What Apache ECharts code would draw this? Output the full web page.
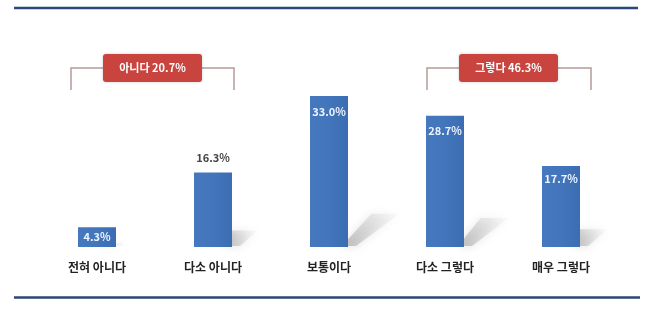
<!DOCTYPE html>
<html><head><meta charset="utf-8">
<script src="https://cdn.jsdelivr.net/npm/echarts@6/dist/echarts.min.js"></script>
<style>html,body{margin:0;padding:0;background:#fff}#c{width:653px;height:311px}</style>
</head><body><div id="c"></div>
<script>
const categories = ['전혀 아니다', '다소 아니다', '보통이다', '다소 그렇다', '매우 그렇다'];
const values = [4.3, 16.3, 33.0, 28.7, 17.7];
const groupLabels = ['아니다 20.7%', '그렇다 46.3%'];

const chart = echarts.init(document.getElementById('c'), null, {renderer: 'canvas'});
const font = '"Noto Sans CJK KR", "Noto Sans", sans-serif';
const insideCol = '#eef4ff';
const labelCfg = [
  {position: 'inside', color: insideCol},
  {position: 'top', color: '#444', distance: 9},
  {position: 'insideTop', color: insideCol, distance: 10},
  {position: 'insideTop', color: insideCol, distance: 10},
  {position: 'insideTop', color: insideCol, distance: 7}
];
const barData = values.map((v, i) => ({
  value: v,
  label: Object.assign({show: true, formatter: v.toFixed(1) + '%', fontSize: 11, fontWeight: 'bold', fontFamily: font}, labelCfg[i])
}));

function bracket(x1, x2, boxX, text) {
  return [
    {type: 'polyline', shape: {points: [[x1, 90], [x1, 68], [x2, 68], [x2, 90]]}, style: {stroke: '#b79a9a', lineWidth: 1.5, fill: null}, z: 1},
    {type: 'rect', shape: {x: boxX, y: 54, width: 99, height: 28, r: 3}, style: {fill: '#c9433f', shadowBlur: 3, shadowColor: 'rgba(0,0,0,0.2)'}, z: 2},
    {type: 'text', style: {x: boxX + 49.5, y: 68, text: text, fill: '#fff', font: 'bold 11px ' + font, textAlign: 'center', textVerticalAlign: 'middle'}, z: 3}
  ];
}

chart.setOption({
  animation: false,
  grid: {left: 39, right: 34, top: 64, bottom: 64},
  xAxis: {
    type: 'category', data: categories,
    axisLine: {show: false}, axisTick: {show: false},
    axisLabel: {color: '#222', fontSize: 12, fontWeight: 'bold', fontFamily: font, margin: 14}
  },
  yAxis: {type: 'value', min: 0, max: 40, show: false, splitLine: {show: false}},
  series: [
    {
      type: 'custom', z: 1, silent: true,
      data: values.map((v, i) => [i, v]),
      renderItem: function (params, api) {
        const base = api.coord([api.value(0), 0]);
        const top = api.coord([api.value(0), api.value(1)]);
        const h = base[1] - top[1];
        const w = 38;
        const xl = base[0] - w / 2, xr = base[0] + w / 2;
        const dx = h * 0.34, dy = h * 0.22;
        return {
          type: 'polygon',
          shape: {points: [[xr - 6, base[1] - 1], [xr + 8, base[1] - 1], [xr + dx, base[1] - dy], [xl + dx + 10, base[1] - dy]]},
          style: {
            fill: new echarts.graphic.LinearGradient(0, 1, 1, 0, [
              {offset: 0, color: 'rgba(150,150,150,0.6)'},
              {offset: 1, color: 'rgba(215,215,215,0.1)'}
            ]),
            shadowBlur: 10, shadowColor: 'rgba(170,170,170,0.7)'
          }
        };
      }
    },
    {
      type: 'bar', z: 2, barWidth: 38,
      data: barData,
      itemStyle: {
        color: new echarts.graphic.LinearGradient(0, 0, 1, 0, [
          {offset: 0, color: '#4578bd'},
          {offset: 0.5, color: '#4275bb'},
          {offset: 1, color: '#3c6db3'}
        ])
      }
    }
  ],
  graphic: [
    {type: 'line', shape: {x1: 14, y1: 8, x2: 638, y2: 8}, style: {stroke: '#2b4677', lineWidth: 2.5}},
    {type: 'line', shape: {x1: 14, y1: 297.5, x2: 640, y2: 297.5}, style: {stroke: '#2b4677', lineWidth: 2.5}}
  ].concat(bracket(71, 234, 103, groupLabels[0]), bracket(427, 591, 459, groupLabels[1]))
});
</script></body></html>
